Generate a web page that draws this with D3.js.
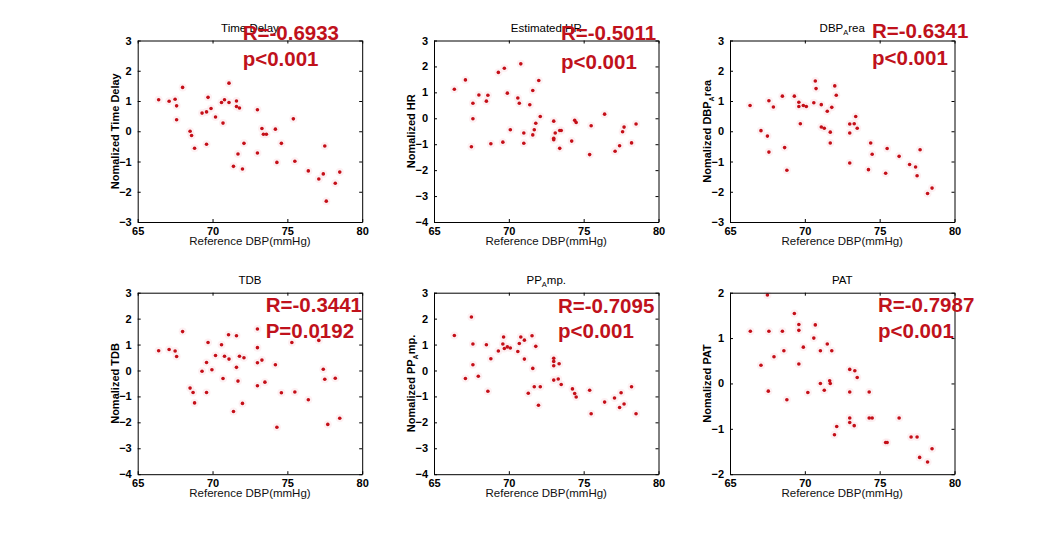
<!DOCTYPE html>
<html>
<head>
<meta charset="utf-8">
<script src="https://cdn.jsdelivr.net/npm/d3@7"></script>
<style>
  html, body { margin: 0; padding: 0; background: #fff; }
  svg { display: block; }
  text { font-family: "Liberation Sans", Arial, sans-serif; }
</style>
</head>
<body>
<svg id="chart" width="1055" height="533"></svg>
<script>
// ---------- data ----------
const xTicks = [65, 70, 75, 80];
const xDomain = [65, 80];

// Panel 1: Time Delay
const timeDelayRef = [66.4,67.1,67.5,67.6,67.6,68.0,68.5,68.6,68.8,69.3,69.6,69.7,69.6,69.9,70.2,70.6,70.8,70.7,71.1,71.1,71.6,71.6,71.8,71.4,71.7,72.0,72.1,73.0,73.0,73.3,73.4,73.6,74.2,74.3,74.6,75.4,75.5,76.4,77.5,77.4,77.1,78.2,78.5,77.6];
const timeDelayVal = [1.04,0.99,1.06,0.84,0.38,1.45,0.0,-0.14,-0.56,0.6,0.64,1.12,-0.43,0.75,0.47,0.95,1.04,0.27,1.59,0.95,1.0,0.82,0.77,-1.16,-0.75,-1.25,-0.4,0.71,-0.72,0.09,-0.1,-0.1,0.07,-1.03,-0.4,0.41,-0.99,-1.31,-0.49,-1.41,-1.58,-1.72,-1.35,-2.31];

// Panel 2: Estimated HR
const hrRef = [66.36,67.1,67.6,67.6,67.5,68.0,68.6,68.5,68.8,69.3,69.7,69.6,69.9,70.1,70.6,70.7,70.8,71.4,71.6,72.0,71.0,71.0,71.7,71.6,71.8,72.1,73.0,73.0,73.0,73.1,73.4,73.5,73.4,74.2,74.4,74.5,75.4,75.5,76.4,77.1,77.4,77.6,77.7,78.2,78.5];
const hrVal = [1.12,1.48,0.58,-0.02,-1.1,0.9,0.89,0.66,-0.98,1.77,1.93,-0.92,0.97,-0.44,0.78,0.58,2.1,0.52,1.07,1.46,-0.57,-0.96,-0.44,-0.64,-0.19,0.07,-0.11,-0.77,-0.83,-0.57,-0.47,-0.47,-1.16,-0.88,-0.08,-0.16,-1.4,-0.29,0.16,-1.27,-1.06,-0.52,-0.34,-0.95,-0.22];

// Panel 3: DBP_Area
const areaRef = [66.34,67.07,67.5,67.6,67.6,67.9,68.5,68.65,68.8,69.3,69.6,69.6,69.9,69.7,70.1,70.6,70.7,70.75,71.1,71.1,71.3,71.5,71.8,71.7,71.7,72.0,72.1,73.0,73.0,73.0,73.3,73.4,73.5,74.4,74.5,74.25,75.4,75.5,76.3,77.0,77.4,77.5,77.7,78.2,78.5];
const areaVal = [0.85,0.02,-0.16,-0.69,1.01,0.8,1.16,-0.54,-1.29,1.16,0.96,0.82,0.85,0.25,0.82,0.94,1.66,1.41,0.88,0.14,0.1,0.66,0.79,-0.03,-0.39,1.5,1.19,0.24,-0.06,-1.05,0.25,0.49,0.1,-0.39,-0.76,-1.27,-1.39,-0.57,-0.83,-1.1,-1.18,-1.47,-0.61,-2.06,-1.88];

// Panel 4: TDB
const tdbRef = [66.4,67.1,67.5,67.6,68.0,68.5,68.7,68.8,69.3,69.6,69.7,69.6,69.96,70.2,70.6,70.7,70.8,71.07,71.1,71.4,71.6,71.6,71.7,71.8,72.0,72.1,73.0,73.0,73.0,73.0,73.3,73.5,74.2,74.3,74.6,75.3,75.5,76.4,77.1,77.4,77.5,77.7,78.2,78.5];
const tdbVal = [0.76,0.81,0.75,0.54,1.5,-0.68,-0.85,-1.25,-0.03,0.31,1.08,-0.85,0.03,0.58,0.99,-0.31,0.55,1.38,0.44,-1.58,1.34,0.12,-0.41,0.55,-1.27,0.49,1.6,0.88,0.3,-0.59,0.4,-0.45,0.22,-2.19,-0.86,1.08,-0.83,-1.13,1.16,0.05,-0.34,-2.08,-0.3,-1.84];

// Panel 5: PP_Amp.
const ampRef = [66.36,67.5,67.6,67.6,67.1,67.96,68.5,68.6,68.8,69.3,69.65,69.6,69.7,69.9,70.1,70.6,70.7,70.8,71.04,71.04,71.3,71.55,71.6,71.7,71.8,71.98,72.1,73.0,73.0,73.0,73.0,73.36,73.3,73.5,74.25,74.4,74.5,75.4,75.5,76.4,77.06,77.4,77.5,77.7,78.2,78.5];
const ampVal = [1.35,2.06,1.02,0.22,-0.31,-0.22,0.99,-0.8,0.45,0.75,1.29,1.02,0.85,0.91,0.87,0.73,1.04,1.29,1.17,0.44,-0.88,1.34,0.08,-0.63,0.93,-1.34,-0.63,0.47,0.35,0.18,-0.37,0.26,-0.33,-0.54,-0.71,-0.89,-1.02,-0.76,-1.67,-1.22,-1.06,-1.43,-0.86,-1.29,-0.63,-1.67];

// Panel 6: PAT
const patRef = [66.36,67.07,67.5,67.6,67.56,67.94,68.5,68.6,68.8,69.3,69.6,69.6,69.6,69.9,70.2,70.6,70.7,71.04,71.04,71.3,71.5,71.66,71.7,71.8,71.98,72.13,73.0,73.0,73.0,73.0,73.34,73.3,73.5,74.3,74.3,74.5,75.4,75.5,76.3,77.1,77.5,77.67,78.2,78.5];
const patVal = [1.15,0.4,1.95,1.15,-0.17,0.59,1.15,0.72,-0.36,1.54,1.3,1.17,0.43,0.8,-0.2,1.0,1.29,0.72,0.0,-0.15,0.87,0.06,0.0,0.72,-1.13,-0.95,0.31,-0.19,-0.76,-0.86,0.28,-0.93,0.13,-0.19,-0.76,-0.76,-1.3,-1.3,-0.76,-1.18,-1.18,-1.63,-1.73,-1.44];

const titles = [
  [["Time Delay"]],
  [["Estimated HR"]],
  [["DBP"], ["A", "sub"], ["rea"]],
  [["TDB"]],
  [["PP"], ["A", "sub"], ["mp."]],
  [["PAT"]]
];
const yLabels = [
  [["Nomalized Time Delay"]],
  [["Nomalized HR"]],
  [["Nomalized DBP"], ["A", "sub"], ["rea"]],
  [["Nomalized TDB"]],
  [["Nomalized PP"], ["A", "sub"], ["mp."]],
  [["Nomalized PAT"]]
];
const yTickSets = [
  [-3,-2,-1,0,1,2,3],
  [-4,-3,-2,-1,0,1,2,3],
  [-3,-2,-1,0,1,2,3],
  [-4,-3,-2,-1,0,1,2,3],
  [-4,-3,-2,-1,0,1,2,3],
  [-2,-1,0,1,2]
];
const rTexts = ["R=-0.6933", "R=-0.5011", "R=-0.6341", "R=-0.3441", "R=-0.7095", "R=-0.7987"];
const pTexts = ["p<0.001", "p<0.001", "p<0.001", "P=0.0192", "p<0.001", "p<0.001"];
const xLabel = "Reference DBP(mmHg)";

const seriesX = [timeDelayRef, hrRef, areaRef, tdbRef, ampRef, patRef];
const seriesY = [timeDelayVal, hrVal, areaVal, tdbVal, ampVal, patVal];

// ---------- layout ----------
const colLeft = [137.7, 434, 730];
const rowTop = [40.5, 292.7];
const W = 224.5, H = 181.5;
// annotation offsets relative to axes [dx, R baseline dy, p baseline dy]
const annot = [[105, -1, 25], [127, -1, 28], [142, -3, 24], [128, 19, 45], [124, 20, 45], [148, 19, 45]];

const svg = d3.select("#chart");
svg.append("rect").attr("width", 1055).attr("height", 533).attr("fill", "#fff");

function addRich(sel, parts, subSize) {
  parts.forEach(([t, kind], k) => {
    if (kind === "sub") {
      sel.append("tspan").attr("font-size", subSize).attr("dy", 3).text(t);
    } else {
      const ts = sel.append("tspan").text(t);
      if (k > 0) ts.attr("dy", -3);
    }
  });
}

for (let i = 0; i < 6; i++) {
  const col = i % 3, row = Math.floor(i / 3);
  const L = colLeft[col], T = rowTop[row];
  const yt = yTickSets[i];
  const x = d3.scaleLinear().domain(xDomain).range([L, L + W]);
  const y = d3.scaleLinear().domain([yt[0], yt[yt.length - 1]]).range([T + H, T]);
  const g = svg.append("g");

  const styleAxis = a => {
    a.selectAll("path.domain").attr("stroke", "#000").attr("stroke-width", 1);
    a.selectAll(".tick line").attr("stroke", "#000");
    a.selectAll(".tick text")
      .attr("font-family", "'Liberation Sans', Arial, sans-serif")
      .attr("font-size", 11).attr("font-weight", "bold").attr("fill", "#000");
  };
  const fmt = d3.format("d");

  // points (drawn below axes)
  const pts = seriesX[i].map((v, k) => [v, seriesY[i][k]]);
  g.append("g").selectAll("circle").data(pts).join("circle")
    .attr("cx", d => x(d[0])).attr("cy", d => y(d[1])).attr("r", 4)
    .attr("fill", "#fbe6e9").attr("opacity", 0.6);
  g.append("g").selectAll("circle").data(pts).join("circle")
    .attr("cx", d => x(d[0])).attr("cy", d => y(d[1])).attr("r", 1.8)
    .attr("fill", "#c40f18");

  g.append("g").attr("transform", `translate(0,${T + H})`)
    .call(d3.axisBottom(x).tickValues(xTicks).tickFormat(fmt).tickSizeInner(-3).tickSizeOuter(0).tickPadding(5))
    .call(styleAxis);
  g.append("g").attr("transform", `translate(0,${T})`)
    .call(d3.axisTop(x).tickValues(xTicks).tickSizeInner(-3).tickSizeOuter(0).tickFormat(""))
    .call(styleAxis);
  g.append("g").attr("transform", `translate(${L},0)`)
    .call(d3.axisLeft(y).tickValues(yt).tickFormat(fmt).tickSizeInner(-3).tickSizeOuter(0).tickPadding(6))
    .call(styleAxis);
  g.append("g").attr("transform", `translate(${L + W},0)`)
    .call(d3.axisRight(y).tickValues(yt).tickSizeInner(-3).tickSizeOuter(0).tickFormat(""))
    .call(styleAxis);

  // title
  const tt = g.append("text").attr("x", L + W / 2).attr("y", T - 9)
    .attr("text-anchor", "middle").attr("font-size", 11.5).attr("fill", "#000");
  addRich(tt, titles[i], 7.5);

  // x label
  g.append("text").attr("x", L + W / 2).attr("y", T + H + 23)
    .attr("text-anchor", "middle").attr("font-size", 11.5).attr("fill", "#111")
    .text(xLabel);

  // y label
  const yl = g.append("text")
    .attr("transform", `translate(${L - 19},${T + H / 2}) rotate(-90)`)
    .attr("text-anchor", "middle").attr("font-size", 11).attr("font-weight", "bold").attr("fill", "#000");
  addRich(yl, yLabels[i], 7);

  // annotation
  const [dx, dr, dp] = annot[i];
  g.append("text").attr("x", L + dx).attr("y", T + dr)
    .attr("font-size", 20.5).attr("font-weight", "bold").attr("fill", "#c0121c").text(rTexts[i]);
  g.append("text").attr("x", L + dx).attr("y", T + dp)
    .attr("font-size", 20.5).attr("font-weight", "bold").attr("fill", "#c0121c").text(pTexts[i]);
}
</script>
</body>
</html>
